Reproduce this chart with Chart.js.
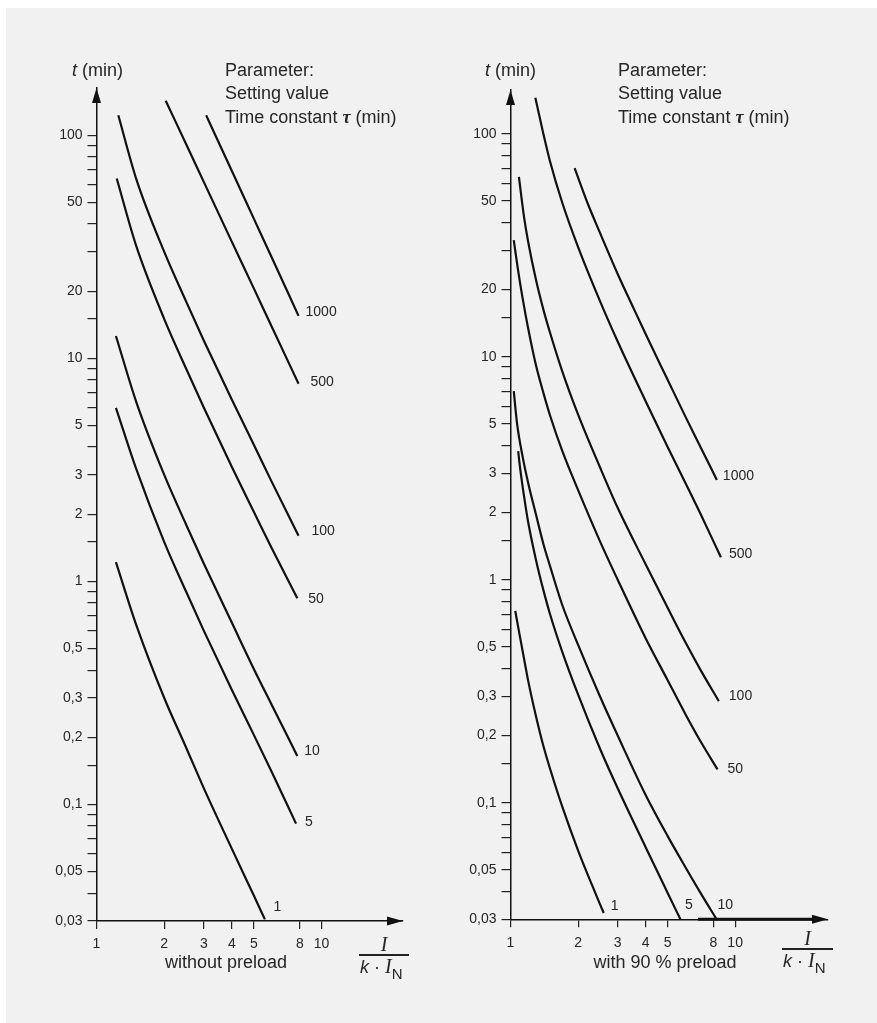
<!DOCTYPE html>
<html>
<head>
<meta charset="utf-8">
<script src="https://cdn.jsdelivr.net/npm/chart.js@4.4.1/dist/chart.umd.min.js"></script>
<style>
  html, body { margin: 0; padding: 0; background: #fff; }
  body { width: 877px; height: 1023px; position: relative; overflow: hidden;
         font-family: 'Liberation Sans', Arial, sans-serif; color: #262626; }
  #panel { position: absolute; left: 6px; top: 8px; right: 0; bottom: 0; background: #f1f1f1; }
  canvas { position: absolute; top: 0; }
  .txt { position: absolute; font-size: 18px; line-height: 18px; white-space: nowrap; }
  .serif { font-family: 'Liberation Serif', 'DejaVu Serif', serif; font-style: italic; }
  .frac { position: absolute; height: 1.5px; background: #222; }
  .sub { font-size: 15px; position: relative; top: 6px; font-style: normal; font-family: 'Liberation Sans', Arial, sans-serif; }
</style>
</head>
<body>
<div id="panel"></div>
<canvas id="left" width="440" height="1023" style="left:0"></canvas>
<canvas id="right" width="437" height="1023" style="left:440px"></canvas>

<!-- left panel texts -->
<div class="txt" style="left:72px; top:61px"><i>t</i> (min)</div>
<div class="txt" style="left:225px; top:61px">Parameter:</div>
<div class="txt" style="left:225px; top:84px">Setting value</div>
<div class="txt" style="left:225px; top:108px">Time constant <b class="serif">τ</b> (min)</div>
<div class="txt" style="left:126px; width:200px; text-align:center; top:953px">without preload</div>
<div class="txt serif" style="left:359px; width:50px; text-align:center; top:935px; font-size:20px">I</div>
<div class="frac" style="left:359px; top:954px; width:50px"></div>
<div class="txt" style="left:360px; top:957px"><i>k</i> · <span class="serif" style="font-size:20px">I</span><span class="sub">N</span></div>

<!-- right panel texts -->
<div class="txt" style="left:485px; top:61px"><i>t</i> (min)</div>
<div class="txt" style="left:618px; top:61px">Parameter:</div>
<div class="txt" style="left:618px; top:84px">Setting value</div>
<div class="txt" style="left:618px; top:108px">Time constant <b class="serif">τ</b> (min)</div>
<div class="txt" style="left:565px; width:200px; text-align:center; top:953px">with 90 % preload</div>
<div class="txt serif" style="left:782px; width:51px; text-align:center; top:929px; font-size:20px">I</div>
<div class="frac" style="left:782px; top:948px; width:51px"></div>
<div class="txt" style="left:783px; top:951px"><i>k</i> · <span class="serif" style="font-size:20px">I</span><span class="sub">N</span></div>

<script>
// curve parameter (time constant tau, min)
const tauLabels = ['1', '5', '10', '50', '100', '500', '1000'];

// without preload: [I/(k*IN), t (min)]
const noLoad1 = [[1.22, 1.22], [1.5, 0.64], [2, 0.3], [2.5, 0.18], [3, 0.118], [4, 0.063], [5, 0.039], [5.6, 0.0305]];
const noLoad5 = [[1.22, 6.0], [1.5, 3.2], [2, 1.5], [2.5, 0.9], [3, 0.6], [4, 0.325], [5, 0.205], [6, 0.14], [7.7, 0.082]];
const noLoad10 = [[1.22, 12.6], [1.5, 6.4], [2, 3.0], [2.5, 1.8], [3, 1.2], [4, 0.65], [5, 0.405], [6, 0.28], [7.8, 0.165]];
const noLoad50 = [[1.23, 64], [1.5, 32], [2, 15], [2.5, 9], [3, 6], [4, 3.25], [5, 2.05], [6, 1.41], [7.8, 0.84]];
const noLoad100 = [[1.25, 123], [1.5, 64], [2, 30], [2.5, 18], [3, 12], [4, 6.5], [5, 4.1], [6, 2.8], [7.9, 1.6]];
const noLoad500 = [[2.03, 143], [2.5, 91.4], [3, 61.7], [4, 33.2], [5, 20.6], [6, 13.9], [7.9, 7.7]];
const noLoad1000 = [[3.07, 123], [4, 69], [5, 42.3], [6, 28.4], [7.9, 15.5]];

// with 90 % preload
const preLoad1 = [[1.05, 0.725], [1.1, 0.56], [1.15, 0.44], [1.2, 0.35], [1.3, 0.243], [1.4, 0.18], [1.5, 0.142],
  [1.7, 0.096], [2, 0.061], [2.3, 0.043], [2.6, 0.032]];
const preLoad5 = [[1.082, 3.77], [1.1, 3.25], [1.15, 2.35], [1.2, 1.8], [1.3, 1.22], [1.4, 0.9], [1.5, 0.7],
  [1.7, 0.475], [2, 0.305], [2.5, 0.175], [3, 0.116], [4, 0.063], [5, 0.0395], [5.8, 0.029]];
const preLoad10 = [[1.034, 7.0], [1.07, 5.0], [1.13, 3.6], [1.2, 2.7], [1.3, 1.95], [1.4, 1.45], [1.5, 1.15],
  [1.7, 0.77], [2, 0.51], [2.5, 0.3], [3, 0.2], [4, 0.108], [5, 0.071], [6, 0.0515], [7, 0.0395], [8.35, 0.0295]];
const preLoad50 = [[1.034, 33.3], [1.08, 24.5], [1.13, 18.5], [1.2, 13.3], [1.3, 9.1], [1.4, 6.9], [1.5, 5.45],
  [1.7, 3.78], [2, 2.52], [2.5, 1.49], [3, 1.0], [4, 0.545], [5, 0.355], [6, 0.25], [7, 0.189], [8.35, 0.141]];
const preLoad100 = [[1.09, 64], [1.15, 42], [1.2, 32.5], [1.3, 22], [1.4, 16.3], [1.5, 12.8], [1.7, 8.6],
  [2, 5.5], [2.5, 3.2], [3, 2.1], [4, 1.17], [5, 0.75], [6, 0.525], [7, 0.395], [8.46, 0.285]];
const preLoad500 = [[1.29, 145], [1.4, 100], [1.5, 75], [1.7, 49], [2, 31], [2.5, 17.8], [3, 11.7], [4, 6.3],
  [5, 3.95], [6, 2.72], [7, 1.98], [8.64, 1.26]];
const preLoad1000 = [[1.93, 70], [2.2, 49], [2.5, 36], [3, 23.5], [3.5, 16.8], [4, 12.6], [5, 7.9], [6, 5.4],
  [7, 3.95], [8.29, 2.8]];

// axis ticks
const xTickValues = [1, 2, 3, 4, 5, 8, 10];
const xTickText = ['1', '2', '3', '4', '5', '8', '10'];
const yTickValues = [0.03, 0.04, 0.05, 0.06, 0.07, 0.08, 0.09, 0.1, 0.15, 0.2, 0.3, 0.4, 0.5, 0.6, 0.7, 0.8, 0.9,
  1, 1.5, 2, 3, 4, 5, 6, 7, 8, 9, 10, 15, 20, 30, 40, 50, 60, 70, 80, 90, 100];
const yLabelValues = [0.03, 0.05, 0.1, 0.2, 0.3, 0.5, 1, 2, 3, 5, 10, 20, 50, 100];
const yLabelText = ['0,03', '0,05', '0,1', '0,2', '0,3', '0,5', '1', '2', '3', '5', '10', '20', '50', '100'];

Chart.defaults.font.family = "'Liberation Sans Narrow', 'Liberation Sans', Arial, sans-serif";
Chart.defaults.font.size = 14;
Chart.defaults.color = '#262626';

const decor = {
  id: 'decor',
  afterDraw(chart, args, opts) {
    const ctx = chart.ctx;
    const a = chart.chartArea;
    ctx.save();
    ctx.fillStyle = '#111';
    // arrow heads
    ctx.beginPath();
    ctx.moveTo(a.left, a.top);
    ctx.lineTo(a.left - 4.5, a.top + 15);
    ctx.lineTo(a.left + 4.5, a.top + 15);
    ctx.closePath();
    ctx.fill();
    ctx.beginPath();
    ctx.moveTo(a.right, a.bottom);
    ctx.lineTo(a.right - 16, a.bottom - 4.5);
    ctx.lineTo(a.right - 16, a.bottom + 4.5);
    ctx.closePath();
    ctx.fill();
    if (opts.thickFrom) {
      ctx.strokeStyle = '#111';
      ctx.lineWidth = 3;
      ctx.beginPath();
      ctx.moveTo(opts.thickFrom, a.bottom);
      ctx.lineTo(a.right - 10, a.bottom);
      ctx.stroke();
    }
    // curve labels at line ends
    ctx.font = "14px 'Liberation Sans Narrow', 'Liberation Sans', Arial, sans-serif";
    ctx.fillStyle = '#262626';
    ctx.textBaseline = 'middle';
    ctx.textAlign = 'left';
    chart.data.datasets.forEach((ds, i) => {
      const pts = chart.getDatasetMeta(i).data;
      const end = pts[pts.length - 1];
      const off = opts.offsets[ds.label] || [8, -4];
      ctx.fillText(ds.label, end.x + off[0], end.y + off[1]);
    });
    ctx.restore();
  }
};

function makePanel(id, curves, xMax, yMax, area, offsets, thickFrom) {
  new Chart(document.getElementById(id), {
    type: 'line',
    data: {
      datasets: curves.map((c, i) => ({
        label: tauLabels[i],
        data: c.map(p => ({ x: p[0], y: p[1] })),
        borderColor: '#111',
        borderWidth: 2.2,
        pointRadius: 0,
        fill: false,
        cubicInterpolationMode: 'monotone'
      }))
    },
    options: {
      responsive: false,
      animation: false,
      devicePixelRatio: 1,
      layout: { padding: { top: area.top, right: area.right, left: 0, bottom: 0 } },
      plugins: {
        legend: { display: false },
        tooltip: { enabled: false },
        decor: { offsets: offsets, thickFrom: thickFrom }
      },
      scales: {
        x: {
          type: 'logarithmic',
          min: 1,
          max: xMax,
          afterBuildTicks: s => { s.ticks = xTickValues.map(v => ({ value: v })); },
          afterFit: s => { s.height = area.xHeight; },
          ticks: {
            autoSkip: false, maxRotation: 0, padding: 7,
            callback: v => { const k = xTickValues.indexOf(v); return k >= 0 ? xTickText[k] : ''; }
          },
          grid: { drawOnChartArea: false, tickLength: 8, color: '#222', lineWidth: 1.2 },
          border: { display: true, color: '#111', width: 1.5 }
        },
        y: {
          type: 'logarithmic',
          min: 0.03,
          max: yMax,
          afterBuildTicks: s => { s.ticks = yTickValues.map(v => ({ value: v })); },
          afterFit: s => { s.width = area.yWidth; },
          ticks: {
            autoSkip: false, padding: 5,
            callback: v => { const k = yLabelValues.indexOf(v); return k >= 0 ? yLabelText[k] : ''; }
          },
          grid: { drawOnChartArea: false, tickLength: 9, color: '#222', lineWidth: 1.2 },
          border: { display: true, color: '#111', width: 1.5 }
        }
      }
    },
    plugins: [decor]
  });
}

makePanel('left',
  [noLoad1, noLoad5, noLoad10, noLoad50, noLoad100, noLoad500, noLoad1000],
  23.0, 163,
  { top: 88, right: 37, xHeight: 102, yWidth: 96.5 },
  { '1': [8.5, -12], '5': [9, -1], '10': [7, -5], '50': [11, 1], '100': [13, -5], '500': [12, -2], '1000': [7, -4] },
  null);

makePanel('right',
  [preLoad1, preLoad5, preLoad10, preLoad50, preLoad100, preLoad500, preLoad1000],
  25.9, 157,
  { top: 90, right: 49, xHeight: 103.7, yWidth: 70.5 },
  { '1': [7, -7], '5': [3, -17], '10': [0, -16], '50': [10, 0], '100': [10, -5], '500': [8, -3], '1000': [6, -4] },
  258);
</script>
</body>
</html>
